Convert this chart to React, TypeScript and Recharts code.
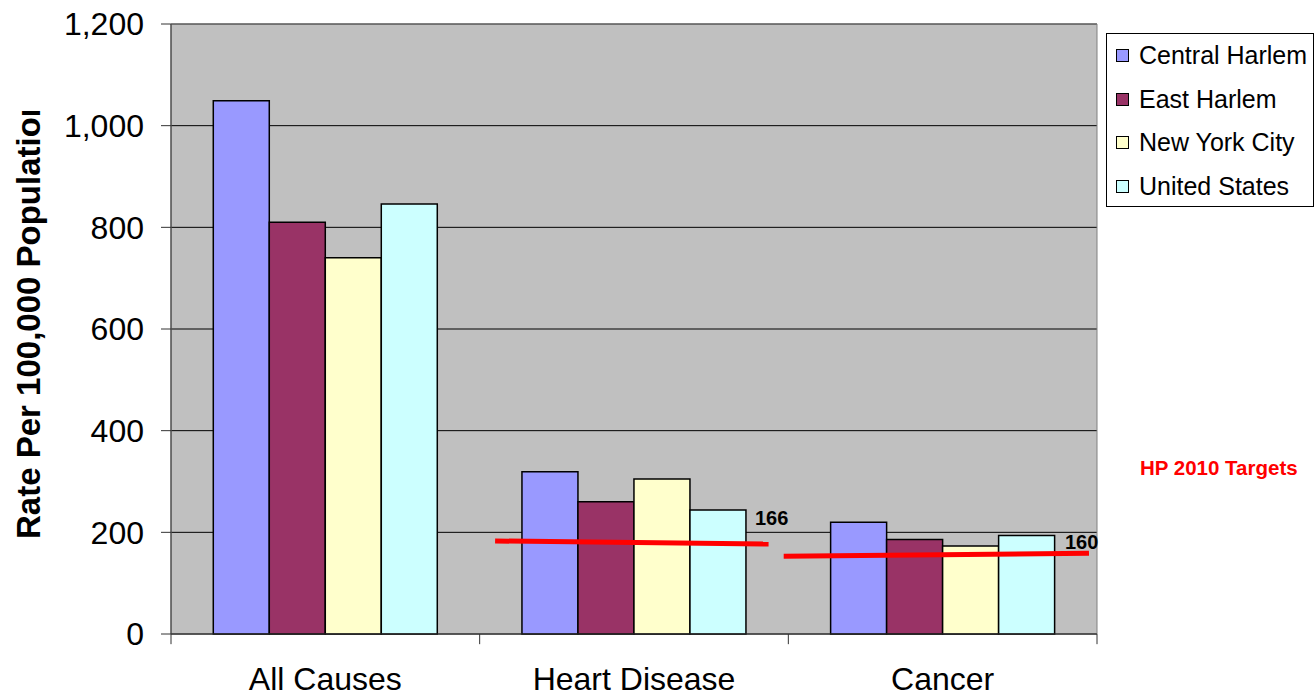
import React from 'react'
import {
  ComposedChart,
  Bar,
  XAxis,
  YAxis,
  CartesianGrid,
  ReferenceLine,
  ReferenceArea,
  ReferenceDot,
  Legend,
} from 'recharts'

// ---------------------------------------------------------------------------
// Data
// ---------------------------------------------------------------------------

const categories = ['All Causes', 'Heart Disease', 'Cancer']
const centralHarlem = [1049, 319, 220]
const eastHarlem = [810, 260, 186]
const newYorkCity = [740, 305, 173]
const unitedStates = [846, 244, 194]

const seriesKeys = ['centralHarlem', 'eastHarlem', 'newYorkCity', 'unitedStates']
const seriesNames = ['Central Harlem', 'East Harlem', 'New York City', 'United States']
const seriesColors = ['#9999FF', '#993366', '#FFFFCC', '#CCFFFF']

const yTicks = [0, 200, 400, 600, 800, 1000, 1200]
const categoryBounds = [0, 1, 2, 3]

// HP 2010 target lines, in (category position, rate) units
const targetLabels = ['166', '160']
const targetStartX = [1.05, 1.985]
const targetStartY = [183, 153]
const targetEndX = [1.936, 2.974]
const targetEndY = [177, 159]
const targetLabelX = [1.892, 2.896]
const targetLabelY = [214, 167]

const data = categories.map((category, i) => ({
  category,
  slot: i + 0.5, // centre of the category on the 0..3 boundary scale
  centralHarlem: centralHarlem[i],
  eastHarlem: eastHarlem[i],
  newYorkCity: newYorkCity[i],
  unitedStates: unitedStates[i],
}))

const FONT = 'Arial, "Liberation Sans", sans-serif'

// ---------------------------------------------------------------------------

function YTitle() {
  return (
    <g>
      <defs>
        <clipPath id="ytitle-clip">
          <rect x={0} y={111} width={80} height={585} />
        </clipPath>
      </defs>
      <g clipPath="url(#ytitle-clip)">
        <text
          x={40}
          y={318}
          transform="rotate(-90 40 318)"
          textAnchor="middle"
          fontSize={33}
          fontWeight="bold"
          fontFamily={FONT}
          fill="#000"
        >
          Rate Per 100,000 Population
        </text>
      </g>
    </g>
  )
}

function NoTick() {
  return <g />
}

function TargetText({ viewBox, text }: any) {
  if (!viewBox) return null
  return (
    <text x={viewBox.x} y={viewBox.y} fontSize={20} fontWeight="bold" fontFamily={FONT} fill="#000">
      {text}
    </text>
  )
}

function LegendBox({ payload }: any) {
  return (
    <div
      style={{
        width: 208,
        height: 174,
        boxSizing: 'border-box',
        border: '1px solid #000',
        background: '#fff',
        fontFamily: FONT,
        fontSize: 25,
        color: '#000',
      }}
    >
      {(payload || []).map((entry: any) => (
        <div key={entry.value} style={{ display: 'flex', alignItems: 'center', height: 43.5, whiteSpace: 'nowrap' }}>
          <span
            style={{
              display: 'inline-block',
              width: 11,
              height: 11,
              border: '1px solid #000',
              background: entry.color,
              marginLeft: 9,
              marginRight: 10,
              flex: 'none',
            }}
          />
          {entry.value}
        </div>
      ))}
    </div>
  )
}

export default function App() {
  return (
    <div style={{ position: 'absolute', left: 0, top: 0, width: 1314, height: 696, background: '#fff' }}>
      <ComposedChart
        width={1314}
        height={696}
        data={data}
        margin={{ top: 24, right: 217, bottom: 0, left: 0 }}
        barCategoryGap="13.7%"
        barGap={0}
      >
        <CartesianGrid
          xAxisId="num"
          vertical={false}
          fill="#C0C0C0"
          fillOpacity={1}
          stroke="#000"
        />
        <XAxis
          xAxisId="num"
          dataKey="slot"
          type="number"
          domain={[0, 3]}
          ticks={categoryBounds}
          allowDataOverflow
          height={0}
          tick={<NoTick />}
          tickLine={false}
          axisLine={{ stroke: '#333' }}
        />
        <XAxis
          xAxisId="cat"
          dataKey="category"
          height={62}
          interval={0}
          axisLine={false}
          tickLine={false}
          tickSize={0}
          tickMargin={33}
          tick={{ fontSize: 32, fill: '#000', fontFamily: FONT }}
        />
        <YAxis
          domain={[0, 1200]}
          ticks={yTicks}
          width={171}
          tickSize={10}
          tickMargin={17}
          tickFormatter={(v: number) => v.toLocaleString('en-US')}
          tick={{ fontSize: 32, fill: '#000', fontFamily: FONT }}
          axisLine={{ stroke: '#333' }}
          tickLine={{ stroke: '#333' }}
          label={<YTitle />}
        />
        <ReferenceArea
          xAxisId="num"
          x1={0}
          x2={3}
          y1={0}
          y2={1200}
          fill="none"
          fillOpacity={0}
          stroke="#808080"
          ifOverflow="visible"
        />
        {seriesKeys.map((key, i) => (
          <Bar
            key={key}
            xAxisId="cat"
            dataKey={key}
            name={seriesNames[i]}
            fill={seriesColors[i]}
            stroke="#000"
            strokeWidth={1.5}
            isAnimationActive={false}
          />
        ))}
        {/* category boundary tick marks below the x axis */}
        {categoryBounds.map((b) => (
          <ReferenceLine
            key={'tick' + b}
            xAxisId="num"
            segment={[
              { x: b, y: 0 },
              { x: b, y: -20 },
            ]}
            stroke="#333"
            strokeWidth={1}
            ifOverflow="visible"
          />
        ))}
        <ReferenceLine xAxisId="num" y={0} stroke="#333" strokeWidth={1} />
        {targetLabels.map((label, i) => (
          <ReferenceLine
            key={'line' + label}
            xAxisId="num"
            segment={[
              { x: targetStartX[i], y: targetStartY[i] },
              { x: targetEndX[i], y: targetEndY[i] },
            ]}
            stroke="#FF0000"
            strokeWidth={5}
            ifOverflow="visible"
          />
        ))}
        {targetLabels.map((label, i) => (
          <ReferenceDot
            key={'label' + label}
            xAxisId="num"
            x={targetLabelX[i]}
            y={targetLabelY[i]}
            r={0}
            fill="none"
            stroke="none"
            ifOverflow="visible"
            label={<TargetText text={label} />}
          />
        ))}
        <Legend
          layout="vertical"
          align="center"
          verticalAlign="middle"
          wrapperStyle={{ left: 1106, top: 33, width: 208, height: 174 }}
          content={<LegendBox />}
        />
      </ComposedChart>
      <div
        style={{
          position: 'absolute',
          left: 1140,
          top: 458,
          fontFamily: FONT,
          fontSize: 20.5,
          lineHeight: '20px',
          fontWeight: 'bold',
          color: '#FF0000',
          whiteSpace: 'nowrap',
        }}
      >
        HP 2010 Targets
      </div>
    </div>
  )
}
